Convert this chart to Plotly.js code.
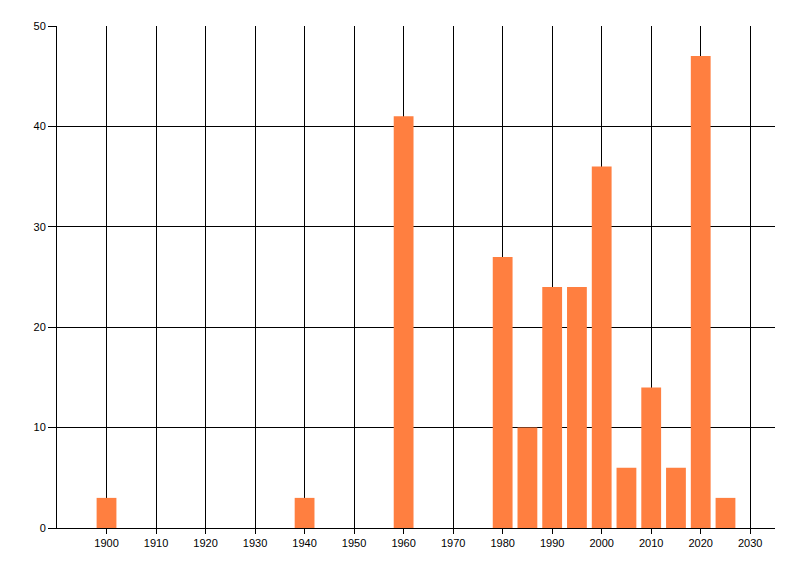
<!DOCTYPE html>
<html>
<head>
<meta charset="utf-8">
<script src="https://cdn.plot.ly/plotly-3.0.1.min.js"></script>
<style>html,body{margin:0;padding:0;background:#fff;}#chart{width:800px;height:576px;}</style>
</head>
<body>
<div id="chart"></div>
<script>
const years = [1900, 1940, 1960, 1980, 1985, 1990, 1995, 2000, 2005, 2010, 2015, 2020, 2025];
const counts = [3, 3, 41, 27, 10, 24, 24, 36, 6, 14, 6, 47, 3];
const xTicks = [1900, 1910, 1920, 1930, 1940, 1950, 1960, 1970, 1980, 1990, 2000, 2010, 2020, 2030];
const yTicks = [0, 10, 20, 30, 40, 50];

const trace = {
  type: 'bar',
  x: years,
  y: counts,
  width: 4,
  marker: {color: '#ff7f40', line: {width: 0}},
  hoverinfo: 'x+y'
};

const layout = {
  width: 800, height: 576,
  margin: {l: 57, r: 25, t: 26, b: 48},
  paper_bgcolor: '#fff', plot_bgcolor: '#fff',
  showlegend: false,
  font: {family: 'Liberation Sans, Arial, sans-serif', size: 11, color: '#000'},
  xaxis: {
    range: [1890, 2035],
    tickvals: xTicks,
    ticktext: xTicks.map(String),
    showgrid: true, gridcolor: '#000', gridwidth: 1,
    showline: true, linecolor: '#000', linewidth: 1,
    ticks: 'outside', ticklen: 5, tickcolor: '#000',
    zeroline: false, fixedrange: true
  },
  yaxis: {
    range: [0, 50],
    tickvals: yTicks,
    showgrid: true, gridcolor: '#000', gridwidth: 1,
    showline: true, linecolor: '#000', linewidth: 1,
    ticks: 'outside', ticklen: 8, tickcolor: '#000',
    zeroline: false, fixedrange: true
  }
};

Plotly.newPlot('chart', [trace], layout, {displayModeBar: false, staticPlot: true});
</script>
</body>
</html>
